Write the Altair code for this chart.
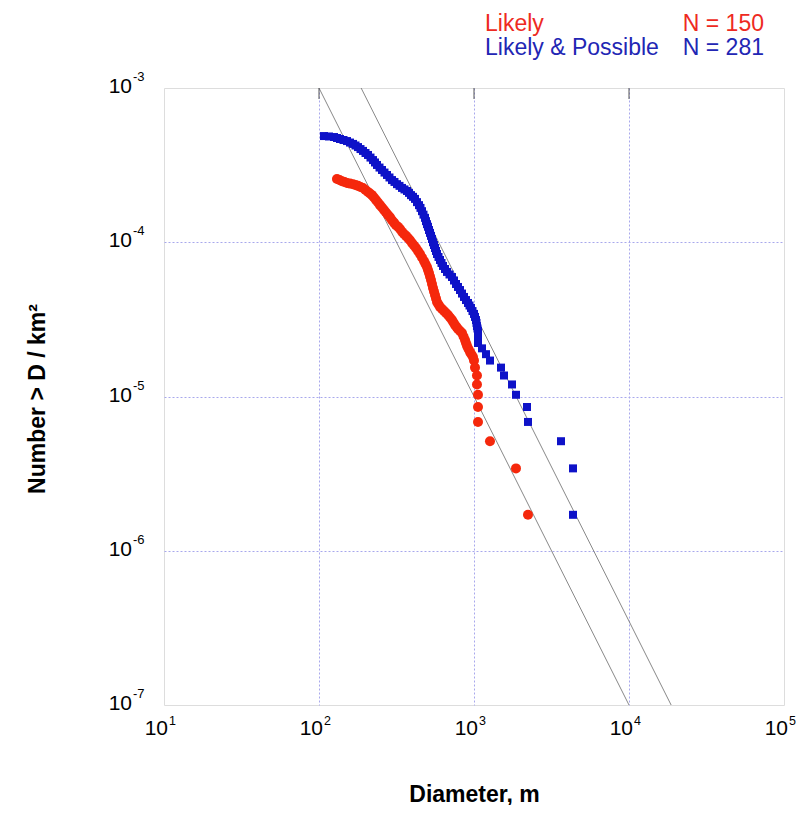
import altair as alt
import pandas as pd

# ---- data ----
# Likely (red circles): diameter (m) and cumulative number > D per km^2
red_d = [130.6, 135.6, 140.7, 146.0, 151.6, 158.5, 165.8, 172.0, 178.5, 185.2,
         192.3, 199.5, 207.1, 213.3, 219.8, 226.4, 233.2, 240.3, 247.5, 255.0,
         262.7, 270.6, 278.7, 287.2, 295.8, 304.7, 313.9, 323.4, 333.2, 343.2,
         353.5, 364.2, 375.2, 386.5, 398.1, 410.1, 422.5, 435.2, 448.3, 461.8,
         475.8, 486.5, 497.5, 505.0, 512.5, 520.2, 528.0, 535.8, 543.9, 552.0,
         560.3, 568.7, 577.2, 590.2, 603.4, 621.6, 640.5, 659.9, 679.8, 700.1,
         721.5, 737.5, 754.3, 771.3, 788.6, 812.3, 836.9, 855.8, 874.9, 888.1,
         901.3, 921.4, 942.4, 963.6, 985.2,
         1000, 1015, 1045, 1045, 1061, 1061, 1061, 1268, 1866, 2230]
red_n = [2.57e-4, 2.53e-4, 2.49e-4, 2.46e-4, 2.42e-4, 2.40e-4, 2.38e-4, 2.35e-4, 2.32e-4, 2.28e-4,
         2.25e-4, 2.18e-4, 2.12e-4, 2.07e-4, 2.02e-4, 1.95e-4, 1.88e-4, 1.81e-4, 1.74e-4, 1.68e-4,
         1.62e-4, 1.56e-4, 1.50e-4, 1.45e-4, 1.39e-4, 1.34e-4, 1.29e-4, 1.26e-4, 1.22e-4, 1.17e-4,
         1.13e-4, 1.10e-4, 1.066e-4, 1.03e-4, 9.89e-5, 9.53e-5, 9.18e-5, 8.78e-5, 8.39e-5, 7.96e-5,
         7.56e-5, 7.23e-5, 6.91e-5, 6.61e-5, 6.32e-5, 6.00e-5, 5.69e-5, 5.36e-5, 5.05e-5, 4.79e-5,
         4.55e-5, 4.32e-5, 4.10e-5, 3.95e-5, 3.80e-5, 3.69e-5, 3.58e-5, 3.48e-5, 3.38e-5, 3.25e-5,
         3.13e-5, 3.02e-5, 2.91e-5, 2.82e-5, 2.74e-5, 2.66e-5, 2.58e-5, 2.45e-5, 2.32e-5, 2.22e-5,
         2.13e-5, 2.03e-5, 1.94e-5, 1.87e-5, 1.80e-5,
         1.71e-5, 1.539e-5, 1.368e-5, 1.197e-5, 1.026e-5, 8.55e-6, 6.84e-6, 5.13e-6, 3.42e-6, 1.71e-6]

# Likely & Possible (blue squares)
blue_d = [107.7, 116.0, 125.0, 130.7, 136.6, 143.9, 151.6, 158.5, 165.8, 172.0,
          178.5, 185.2, 192.3, 199.5, 207.1, 214.9, 223.1, 229.8, 236.7, 245.7,
          255.0, 264.6, 274.6, 284.9, 295.8, 306.9, 318.6, 330.7, 343.2, 356.0,
          369.6, 380.7, 392.3, 404.1, 416.3, 428.9, 441.7, 451.6, 461.8, 472.3,
          482.9, 490.1, 497.5, 505.0, 512.5, 520.2, 528.0, 535.8, 543.9, 552.0,
          560.3, 568.7, 577.2, 590.2, 603.4, 617.0, 631.0, 650.0, 669.6, 695.0,
          721.5, 743.0, 765.6, 788.6, 812.3, 836.9, 861.9, 888.1, 914.6, 935.4,
          956.3, 978.0, 1000, 1015, 1030, 1038, 1045, 1053, 1061, 1061,
          1061, 1061, 1126, 1195, 1268, 1494, 1562, 1759, 1866,
          2198, 2230, 3641, 4352, 4352]
blue_n = [4.88e-4, 4.85e-4, 4.81e-4, 4.74e-4, 4.67e-4, 4.60e-4, 4.53e-4, 4.43e-4, 4.34e-4, 4.24e-4,
          4.14e-4, 4.02e-4, 3.91e-4, 3.79e-4, 3.68e-4, 3.54e-4, 3.41e-4, 3.29e-4, 3.17e-4, 3.05e-4,
          2.94e-4, 2.83e-4, 2.73e-4, 2.63e-4, 2.53e-4, 2.46e-4, 2.38e-4, 2.32e-4, 2.25e-4, 2.20e-4,
          2.15e-4, 2.09e-4, 2.02e-4, 1.97e-4, 1.91e-4, 1.82e-4, 1.74e-4, 1.67e-4, 1.59e-4, 1.51e-4,
          1.44e-4, 1.37e-4, 1.31e-4, 1.26e-4, 1.20e-4, 1.15e-4, 1.10e-4, 1.05e-4, 1.00e-4, 9.60e-5,
          9.18e-5, 8.78e-5, 8.39e-5, 8.03e-5, 7.67e-5, 7.34e-5, 7.02e-5, 6.71e-5, 6.42e-5, 6.18e-5,
          5.95e-5, 5.65e-5, 5.36e-5, 5.13e-5, 4.90e-5, 4.65e-5, 4.42e-5, 4.22e-5, 4.04e-5, 3.89e-5,
          3.75e-5, 3.58e-5, 3.43e-5, 3.28e-5, 3.13e-5, 3.00e-5, 2.86e-5, 2.76e-5, 2.66e-5, 2.54e-5,
          2.43e-5, 2.223e-5, 2.052e-5, 1.881e-5, 1.71e-5, 1.539e-5, 1.368e-5, 1.197e-5, 1.026e-5,
          8.55e-6, 6.84e-6, 5.13e-6, 3.42e-6, 1.71e-6]

# two reference power-law lines (end points)
line_id = ["a", "a", "b", "b"]
line_d = [100, 10000, 187, 18700]
line_n = [1e-3, 1e-7, 1e-3, 1e-7]

# tick labels
x_tick_vals = [10, 100, 1000, 10000, 100000]
x_tick_exp = ["1", "2", "3", "4", "5"]
y_tick_vals = [1e-3, 1e-4, 1e-5, 1e-6, 1e-7]
y_tick_exp = ["-3", "-4", "-5", "-6", "-7"]
grid_x = [100, 1000, 10000]
grid_y = [1e-4, 1e-5, 1e-6]

legend_names = ["Likely", "Likely & Possible"]
legend_counts = ["N = 150", "N = 281"]

RED = "#f5280c"
BLUE = "#0e12c8"
RED_TXT = "#ee2a22"
BLUE_TXT = "#2226b4"
FONT = "Liberation Sans"
W, H = 620, 617

xs = alt.Scale(type="log", domain=[10, 100000], nice=False)
ys = alt.Scale(type="log", domain=[1e-7, 1e-3], nice=False)

red_df = pd.DataFrame({"d": red_d, "n": red_n})
blue_df = pd.DataFrame({"d": blue_d, "n": blue_n})
line_df = pd.DataFrame({"id": line_id, "d": line_d, "n": line_n})
xt_df = pd.DataFrame({"v": x_tick_vals, "base": ["10"] * 5, "exp": x_tick_exp})
yt_df = pd.DataFrame({"v": y_tick_vals, "base": ["10"] * 5, "exp": y_tick_exp})

x_axis = alt.Axis(values=grid_x, labels=False, ticks=False, domain=False, grid=True,
                  gridColor="#a8a8ec", gridDash=[2, 2], gridWidth=1,
                  title="Diameter, m", titleFont=FONT, titleFontSize=23, titleFontWeight="bold",
                  titleColor="#000", titleX=W / 2, titleY=89, titleAlign="center",
                  titleBaseline="middle")
y_axis = alt.Axis(values=grid_y, labels=False, ticks=False, domain=False, grid=True,
                  gridColor="#a8a8ec", gridDash=[2, 2], gridWidth=1,
                  title="Number > D / km²", titleFont=FONT, titleFontSize=23,
                  titleFontWeight="bold", titleColor="#000", titleX=-127, titleY=H / 2 + 2,
                  titleAlign="center", titleBaseline="middle", titleAngle=270)

lines = alt.Chart(line_df).mark_line(color="#7a7a7a", strokeWidth=0.9).encode(
    x=alt.X("d:Q", scale=xs, axis=x_axis),
    y=alt.Y("n:Q", scale=ys, axis=y_axis),
    detail="id:N",
)

red_pts = alt.Chart(red_df).mark_point(shape="circle", filled=True, opacity=1,
                                       color=RED, size=100).encode(
    x=alt.X("d:Q", scale=xs), y=alt.Y("n:Q", scale=ys))

blue_pts = alt.Chart(blue_df).mark_point(shape="square", filled=True, opacity=1,
                                         color=BLUE, size=64).encode(
    x=alt.X("d:Q", scale=xs), y=alt.Y("n:Q", scale=ys))

top_ticks = alt.Chart(pd.DataFrame({"v": grid_x})).mark_rule(color="#555", strokeWidth=1).encode(
    x=alt.X("v:Q", scale=xs), y=alt.value(0), y2=alt.value(11))

xl_base = alt.Chart(xt_df).mark_text(font=FONT, fontSize=21, align="right",
                                     baseline="alphabetic", dx=4, color="#000").encode(
    x=alt.X("v:Q", scale=xs), y=alt.value(H + 30), text="base:N")
xl_exp = alt.Chart(xt_df).mark_text(font=FONT, fontSize=12.5, align="left",
                                    baseline="alphabetic", dx=5, color="#000").encode(
    x=alt.X("v:Q", scale=xs), y=alt.value(H + 20), text="exp:N")

yl_base = alt.Chart(yt_df).mark_text(font=FONT, fontSize=21, align="right",
                                     baseline="alphabetic", dy=5, color="#000").encode(
    x=alt.value(-32), y=alt.Y("v:Q", scale=ys), text="base:N")
yl_exp = alt.Chart(yt_df).mark_text(font=FONT, fontSize=13, align="left",
                                    baseline="alphabetic", dy=-7, color="#000").encode(
    x=alt.value(-31), y=alt.Y("v:Q", scale=ys), text="exp:N")


def legend_text(txt, color, x, y, align):
    return alt.Chart(pd.DataFrame({"t": [txt]})).mark_text(
        font=FONT, fontSize=23, align=align, baseline="alphabetic", color=color
    ).encode(x=alt.value(x), y=alt.value(y), text="t:N")


leg = [
    legend_text(legend_names[0], RED_TXT, 321, -57, "left"),
    legend_text(legend_counts[0], RED_TXT, 600, -57, "right"),
    legend_text(legend_names[1], BLUE_TXT, 321, -33, "left"),
    legend_text(legend_counts[1], BLUE_TXT, 600, -33, "right"),
]

chart = alt.layer(
    lines, red_pts, blue_pts, top_ticks, xl_base, xl_exp, yl_base, yl_exp, *leg
).properties(
    width=W, height=H,
    padding={"left": 156, "top": 80, "right": 12, "bottom": 100},
    autosize=alt.AutoSizeParams(type="none"),
).configure_view(stroke="#8a8ae4", strokeWidth=1.5).configure(background="white")

chart.save("out.html", embed_options={"renderer": "svg", "actions": False})
